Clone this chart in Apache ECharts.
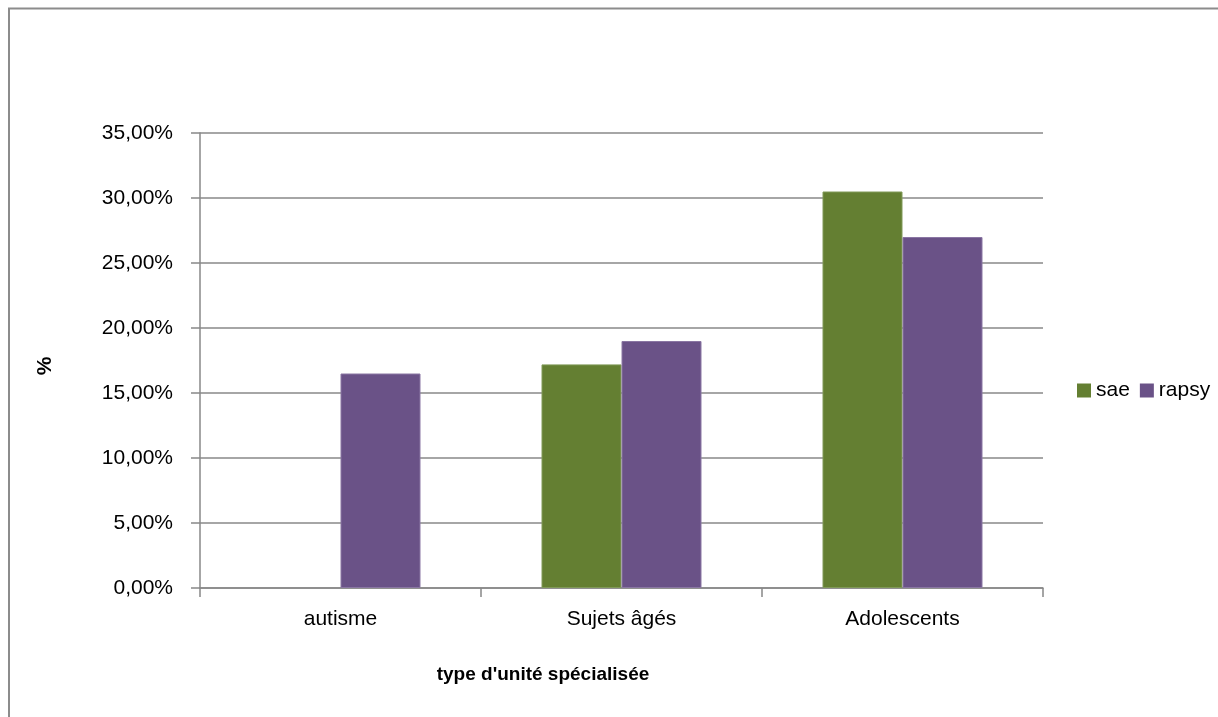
<!DOCTYPE html>
<html>
<head>
<meta charset="utf-8">
<title>type d'unité spécialisée</title>
<script src="https://cdn.jsdelivr.net/npm/echarts@6/dist/echarts.min.js"></script>
<style>
  html, body { margin: 0; padding: 0; background: #ffffff; }
  #chart { width: 1218px; height: 717px; }
</style>
</head>
<body>
<div id="chart"></div>
<script>
// Categories and series values (percent)
const categories = ['autisme', 'Sujets âgés', 'Adolescents'];
const saeValues = [null, 17.2, 30.5];
const rapsyValues = [16.5, 19.0, 27.0];
const seriesNames = ['sae', 'rapsy'];
const yTicks = { min: 0, max: 35, interval: 5 };

const FONT = '"Liberation Sans", Arial, sans-serif';
const GRID_COLOR = '#888888';

const chart = echarts.init(document.getElementById('chart'), null, { renderer: 'canvas' });

const fmtPct = v => v.toFixed(2).replace('.', ',') + '%';

chart.setOption({
  backgroundColor: '#ffffff',
  animation: false,
  grid: { left: 200, right: 175, top: 133, bottom: 129, containLabel: false },
  legend: {
    data: seriesNames,
    orient: 'horizontal',
    left: 1077,
    top: 380,
    padding: 0,
    width: 141,
    itemWidth: 14,
    itemHeight: 14,
    itemGap: 10,
    icon: 'rect',
    itemStyle: { borderWidth: 0 },
    textStyle: { fontFamily: FONT, fontSize: 21, color: '#000000' }
  },
  xAxis: {
    type: 'category',
    data: categories,
    axisLine: { show: true, lineStyle: { color: GRID_COLOR, width: 1.5 } },
    axisTick: { show: true, alignWithLabel: false, length: 9, lineStyle: { color: GRID_COLOR, width: 1.5 } },
    axisLabel: { fontFamily: FONT, fontSize: 21, color: '#000000', margin: 21 },
    splitLine: { show: false }
  },
  yAxis: {
    type: 'value',
    min: yTicks.min,
    max: yTicks.max,
    interval: yTicks.interval,
    axisLine: { show: true, lineStyle: { color: GRID_COLOR, width: 1.5 } },
    axisTick: { show: true, length: 9, lineStyle: { color: GRID_COLOR, width: 1.5 } },
    axisLabel: { fontFamily: FONT, fontSize: 21, color: '#000000', margin: 27, formatter: fmtPct },
    splitLine: { show: true, lineStyle: { color: GRID_COLOR, width: 1.5 } }
  },
  series: [
    {
      name: seriesNames[0],
      type: 'bar',
      data: saeValues,
      barWidth: 80,
      barGap: '0%',
      itemStyle: { color: '#647f32', borderColor: '#809a58', borderWidth: 1 }
    },
    {
      name: seriesNames[1],
      type: 'bar',
      data: rapsyValues,
      barWidth: 80,
      barGap: '0%',
      itemStyle: { color: '#6a5287', borderColor: '#8a76a3', borderWidth: 1 }
    }
  ],
  graphic: [
    {
      type: 'rect',
      shape: { x: 9, y: 8.5, width: 1400, height: 900 },
      style: { fill: 'none', stroke: '#8c8c8c', lineWidth: 2 },
      silent: true
    },
    {
      type: 'text',
      x: 543,
      y: 675,
      style: {
        text: "type d'unité spécialisée",
        font: 'bold 19px ' + FONT,
        fill: '#000000',
        align: 'center',
        verticalAlign: 'middle'
      }
    },
    {
      type: 'text',
      x: 45,
      y: 366,
      rotation: Math.PI / 2,
      style: {
        text: '%',
        font: 'bold 21px ' + FONT,
        fill: '#000000',
        align: 'center',
        verticalAlign: 'middle'
      }
    }
  ]
});
</script>
</body>
</html>
